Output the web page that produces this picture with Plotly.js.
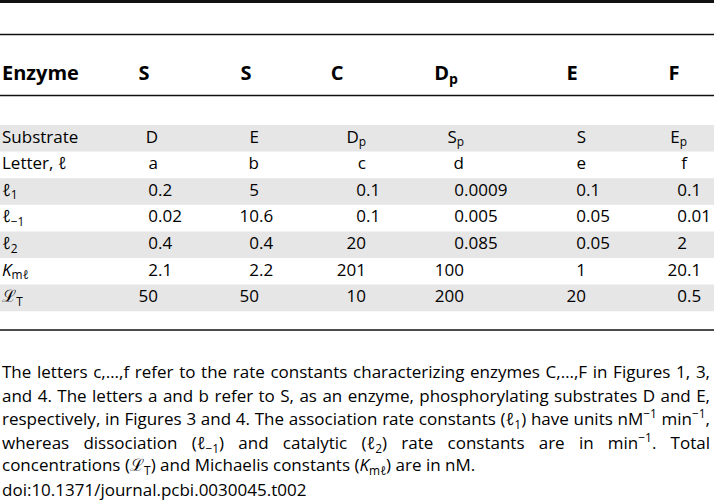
<!DOCTYPE html>
<html>
<head>
<meta charset="utf-8">
<script src="https://cdn.plot.ly/plotly-3.0.1.min.js"></script>
<style>html,body{margin:0;padding:0;background:#fff;}</style>
</head>
<body>
<div id="chart" style="width:714px;height:502px;"></div>
<script>
// ---------------- data ----------------
const enzymes    = ['S', 'S', 'C', 'D<sub>p</sub>', 'E', 'F'];
const rowLabels  = ['Substrate', 'Letter, <i>ℓ</i>', '<i>ℓ</i><sub>1</sub>', '<i>ℓ</i><sub>−1</sub>',
                    '<i>ℓ</i><sub>2</sub>', '<i>K</i><sub>m<i>ℓ</i></sub>', 'ℒ<sub>T</sub>'];
const substrates = ['D', 'E', 'D<sub>p</sub>', 'S<sub>p</sub>', 'S', 'E<sub>p</sub>'];
const letters    = ['a', 'b', 'c', 'd', 'e', 'f'];
const l1         = [0.2, 5, 0.1, 0.0009, 0.1, 0.1];
const lMinus1    = [0.02, 10.6, 0.1, 0.005, 0.05, 0.01];
const l2         = [0.4, 0.4, 20, 0.085, 0.05, 2];
const Kml        = [2.1, 2.2, 201, 100, 1, 20.1];
const LT         = [50, 50, 10, 200, 20, 0.5];
const captionLines = [
  'The letters c,…,f refer to the rate constants characterizing enzymes C,…,F in Figures 1, 3,',
  'and 4. The letters a and b refer to S, as an enzyme, phosphorylating substrates D and E,',
  'respectively, in Figures 3 and 4. The association rate constants (<i>ℓ</i><sub>1</sub>) have units nM<sup>−1</sup> min<sup>−1</sup>,',
  'whereas dissociation (<i>ℓ</i><sub>−1</sub>) and catalytic (<i>ℓ</i><sub>2</sub>) rate constants are in min<sup>−1</sup>. Total',
  'concentrations (ℒ<sub>T</sub>) and Michaelis constants (<i>K</i><sub>m<i>ℓ</i></sub>) are in nM.',
  'doi:10.1371/journal.pcbi.0030045.t002'
];

// ---------------- layout constants ----------------
const W = 714, H = 502;
const FONT = 'Open Sans, Noto Sans, DejaVu Sans, sans-serif';
const COL_X  = [158, 259, 366, 464, 586, 687];   // decimal anchor of each column
const HEAD_X = [144, 246, 337, 446, 572, 674];   // header centres
const LABEL_X = 2;
const HEAD_Y = 75;
const ROW_TOP = 125, ROW_H = 26.6;
const CAP_Y0 = 371.5, CAP_DY = 23.6;
const JUSTIFY_RIGHT = 710;
const JUSTIFIED = [0, 1, 2, 3];

const rows = [substrates, letters, l1, lMinus1, l2, Kml, LT];
const rowY = rows.map((_, i) => ROW_TOP + (i + 0.5) * ROW_H);

// stripes
const stripeY = rowY.filter((_, i) => i % 2 === 0);

// cell texts split on decimal point
const intX = [], intY = [], intT = [], fracX = [], fracY = [], fracT = [];
rows.forEach((vals, r) => {
  vals.forEach((v, c) => {
    if (typeof v === 'number') {
      const parts = String(v).split('.');
      intX.push(COL_X[c]); intY.push(rowY[r]); intT.push(parts[0]);
      if (parts[1] !== undefined) { fracX.push(COL_X[c]); fracY.push(rowY[r]); fracT.push('.' + parts[1]); }
    } else {
      intX.push(COL_X[c]); intY.push(rowY[r]); intT.push(v);
    }
  });
});

const bodyFont = {family: FONT, size: 17, color: '#000'};
const headFont = {family: FONT, size: 20, color: '#000'};

const traces = [
  {type: 'bar', orientation: 'h', y: stripeY, x: stripeY.map(() => W), base: 0, width: ROW_H,
   marker: {color: '#e6e6e6', line: {width: 0}}, hoverinfo: 'skip'},
  {type: 'scatter', mode: 'text', x: [LABEL_X], y: [HEAD_Y], text: ['<b>Enzyme</b>'],
   textposition: 'middle right', textfont: headFont, hoverinfo: 'skip'},
  {type: 'scatter', mode: 'text', x: HEAD_X, y: HEAD_X.map(() => HEAD_Y),
   text: enzymes.map(e => '<b>' + e + '</b>'), textposition: 'middle center', textfont: headFont, hoverinfo: 'skip'},
  {type: 'scatter', mode: 'text', x: rowY.map(() => LABEL_X), y: rowY, text: rowLabels,
   textposition: 'middle right', textfont: bodyFont, hoverinfo: 'skip'},
  {type: 'scatter', mode: 'text', x: intX, y: intY, text: intT,
   textposition: 'middle left', textfont: bodyFont, hoverinfo: 'skip'},
  {type: 'scatter', mode: 'text', x: fracX, y: fracY, text: fracT,
   textposition: 'middle right', textfont: bodyFont, hoverinfo: 'skip'}
];

const rule = (y, w) => ({type: 'line', xref: 'x', yref: 'y', x0: 0, x1: W, y0: y, y1: y,
                         line: {color: '#111', width: w}});

const layout = {
  width: W, height: H, autosize: false,
  margin: {l: 0, r: 0, t: 0, b: 0, pad: 0},
  paper_bgcolor: '#fff', plot_bgcolor: '#fff',
  showlegend: false, hovermode: false,
  xaxis: {range: [0, W], visible: false, fixedrange: true},
  yaxis: {range: [H, 0], visible: false, fixedrange: true},
  shapes: [rule(1.5, 3), rule(34.5, 1.5), rule(95.5, 1.5), rule(330, 1.5)],
  annotations: captionLines.map((t, i) => ({
    xref: 'x', yref: 'y', x: 0, y: CAP_Y0 + i * CAP_DY, xanchor: 'left', yanchor: 'middle',
    text: t, showarrow: false, align: 'left', font: bodyFont
  }))
};

Plotly.newPlot('chart', traces, layout, {staticPlot: true, displayModeBar: false}).then(gd => {
  gd.querySelectorAll('g.annotation').forEach(g => {
    const idx = +g.getAttribute('data-index');
    if (JUSTIFIED.indexOf(idx) === -1) return;
    const t = g.querySelector('text.annotation-text');
    if (!t) return;
    const spaces = (t.textContent.match(/ /g) || []).length;
    const rect = t.getBoundingClientRect();
    if (spaces > 0) t.style.wordSpacing = ((JUSTIFY_RIGHT - rect.right) / spaces) + 'px';
  });
});
</script>
</body>
</html>
